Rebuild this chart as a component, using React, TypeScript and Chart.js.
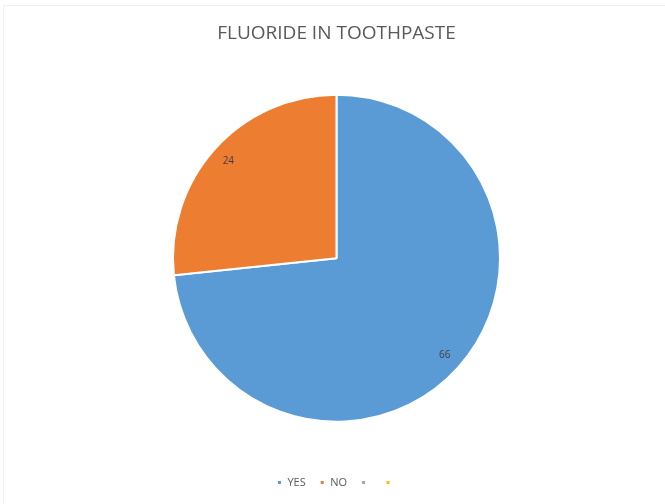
import React, { useEffect, useRef } from "react";
import { Chart, registerables } from "chart.js";

Chart.register(...registerables);

const titleText = "FLUORIDE IN TOOTHPASTE";
const categories = ["YES", "NO", "", ""];
const values = [66, 24, 0, 0];
const colors = ["#5B9BD5", "#ED7D31", "#A5A5A5", "#FFC000"];

const FONT = "'Open Sans', 'Liberation Sans', sans-serif";

const dataLabelPlugin = {
  id: "sliceLabels",
  afterDatasetsDraw(chart: any) {
    const ctx = chart.ctx;
    const meta = chart.getDatasetMeta(0);
    ctx.save();
    ctx.font = `10px ${FONT}`;
    ctx.fillStyle = "#404040";
    ctx.textAlign = "center";
    ctx.textBaseline = "middle";
    meta.data.forEach((arc: any, i: number) => {
      const v = values[i];
      if (!v) return;
      const { x, y, startAngle, endAngle, outerRadius } = arc.getProps(
        ["x", "y", "startAngle", "endAngle", "outerRadius"],
        true
      );
      const mid = (startAngle + endAngle) / 2;
      const r = outerRadius * 0.89;
      ctx.fillText(String(v), x + Math.cos(mid) * r, y + Math.sin(mid) * r);
    });
    ctx.restore();
  },
};

export default function App() {
  const canvasRef = useRef<HTMLCanvasElement | null>(null);

  useEffect(() => {
    if (!canvasRef.current) return;
    const chart = new Chart(canvasRef.current, {
      type: "pie",
      data: {
        labels: categories,
        datasets: [
          {
            data: values,
            backgroundColor: colors,
            borderColor: "#ffffff",
            borderWidth: 2,
            hoverOffset: 0,
            offset: 0,
            radius: 163.5,
          } as any,
        ],
      },
      options: {
        animation: false,
        responsive: true,
        maintainAspectRatio: false,
        layout: { padding: { left: 8, right: 0, top: 0, bottom: 6 } },
        plugins: {
          title: {
            display: true,
            text: titleText,
            color: "#595959",
            font: { family: FONT, size: 19, weight: "normal" },
            padding: { top: 22.5, bottom: 8 },
          },
          legend: {
            display: true,
            position: "bottom",
            labels: {
              boxWidth: 5,
              boxHeight: 5,
              padding: 14,
              color: "#595959",
              font: { family: FONT, size: 11 },
            },
          },
          tooltip: { enabled: false },
        },
      },
      plugins: [dataLabelPlugin],
    });
    return () => chart.destroy();
  }, []);

  return (
    <div
      style={{
        position: "fixed",
        left: 0,
        top: 0,
        width: 665,
        height: 504,
        background: "#ffffff",
      }}
    >
      <div
        style={{
          position: "absolute",
          left: 3,
          top: 5,
          right: 0,
          bottom: 0,
          borderLeft: "1px solid #f0f0f0",
          borderTop: "1px solid #f0f0f0",
        }}
      />
      <canvas ref={canvasRef} style={{ position: "relative" }} />
    </div>
  );
}
